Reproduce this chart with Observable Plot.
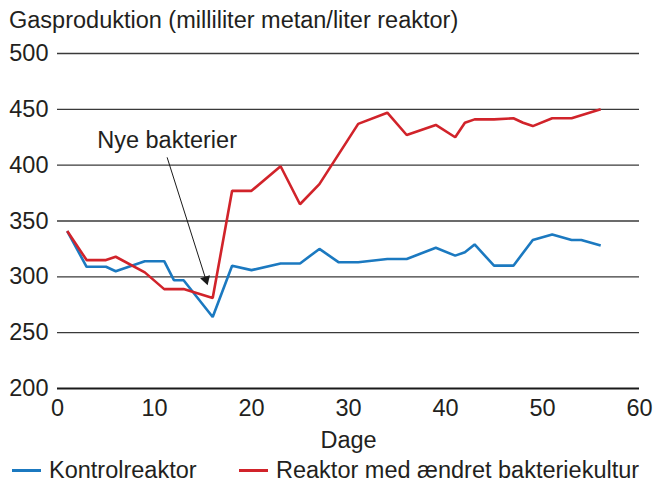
<!DOCTYPE html>
<html><head><meta charset="utf-8">
<script src="https://cdn.jsdelivr.net/npm/d3@7"></script>
<script src="https://cdn.jsdelivr.net/npm/@observablehq/plot@0.6"></script>
<style>
body{margin:0;background:#fff;font-family:"Liberation Sans",Arial,sans-serif;color:#231f20}
#title{height:40px;line-height:40px;padding-left:9px;font-size:23.5px;white-space:nowrap}
#legend{position:relative;height:30px;font-size:23.5px;white-space:nowrap}
#legend .sw{position:absolute;height:3px;top:11px}
#legend .lb{position:absolute;top:0;line-height:24px}
</style></head><body>
<div id="title">Gasproduktion (milliliter metan/liter reaktor)</div>
<div id="chart"></div>
<div id="legend"></div>
<script>
const daysKontrol = [1,3,5,6,9,11,12,13,16,18,20,23,25,27,29,31,34,36,39,41,42,43,45,47,49,51,53,54,56];
const kontrol     = [341,309,309,305,314,314,297,297,264,310,306,312,312,325,313,313,316,316,326,319,322,329,310,310,333,338,333,333,328];
const daysReaktor = [1,3,5,6,9,11,13,16,18,20,23,25,27,31,34,36,39,41,42,43,45,47,48,49,51,53,56];
const reaktor     = [341,315,315,318,304,289,289,281,377,377,399,365,383,437,447,427,436,425,438,441,441,442,438,435,442,442,450];
const yTicks = [200,250,300,350,400,450,500];
const xTicks = [0,10,20,30,40,50,60];
const seriesNames = ["Kontrolreaktor","Reaktor med ændret bakteriekultur"];
const seriesColors = ["#1b79c0","#d1232a"];
const xLabel = "Dage";
const annotationText = "Nye bakterier";
const annotationPos = {x:11.3, y:422};
const arrowStart = {x:11.3, y:407};
const arrowHead = {x:15.3, y:297.5};

const data = [
  ...daysKontrol.map((d,i)=>({day:d, value:kontrol[i], series:seriesNames[0]})),
  ...daysReaktor.map((d,i)=>({day:d, value:reaktor[i], series:seriesNames[1]}))
];

const plot = Plot.plot({
  width:664, height:418,
  marginTop:13, marginBottom:70, marginLeft:57, marginRight:25,
  x:{domain:[0,60], ticks:xTicks, tickSize:0, tickPadding:11, label:null},
  y:{domain:[200,500], ticks:yTicks, tickSize:0, tickPadding:9, label:null},
  color:{domain:seriesNames, range:seriesColors},
  style:{fontSize:"23.5px", fontFamily:'"Liberation Sans",Arial,sans-serif', color:"#231f20", background:"#fff", overflow:"visible"},
  marks:[
    Plot.ruleY(yTicks.filter(t=>t!==200), {stroke:"#3a3a3a", strokeWidth:1.3}),
    Plot.ruleY([200], {stroke:"#1a1a1a", strokeWidth:2.2}),
    Plot.line(data, {x:"day", y:"value", stroke:"series", strokeWidth:2.6, strokeLinejoin:"miter", strokeLinecap:"butt"}),
    Plot.link([0], {x1:()=>arrowStart.x, y1:()=>arrowStart.y, x2:()=>arrowHead.x, y2:()=>arrowHead.y, stroke:"#1a1a1a", strokeWidth:1}),
    Plot.dot([0], {x:()=>arrowHead.x, y:()=>arrowHead.y, symbol:"triangle", r:3.8, rotate:163, fill:"#1a1a1a", stroke:null}),
    Plot.text([annotationText], {x:()=>annotationPos.x, y:()=>annotationPos.y, text:d=>d, textAnchor:"middle", lineAnchor:"middle", fill:"#231f20"}),
    Plot.text([xLabel], {frameAnchor:"bottom", dy:52, text:d=>d, lineAnchor:"middle", fill:"#231f20"})
  ]
});
document.getElementById("chart").appendChild(plot);

const legend = document.getElementById("legend");
const swX = [12, 239], lbX = [49, 276];
seriesNames.forEach((n,i)=>{
  const s = document.createElement("div"); s.className="sw";
  s.style.left = swX[i]+"px"; s.style.width = "29px"; s.style.background = seriesColors[i];
  legend.appendChild(s);
  const l = document.createElement("div"); l.className="lb";
  l.style.left = lbX[i]+"px"; l.textContent = n;
  legend.appendChild(l);
});
</script>
</body></html>
